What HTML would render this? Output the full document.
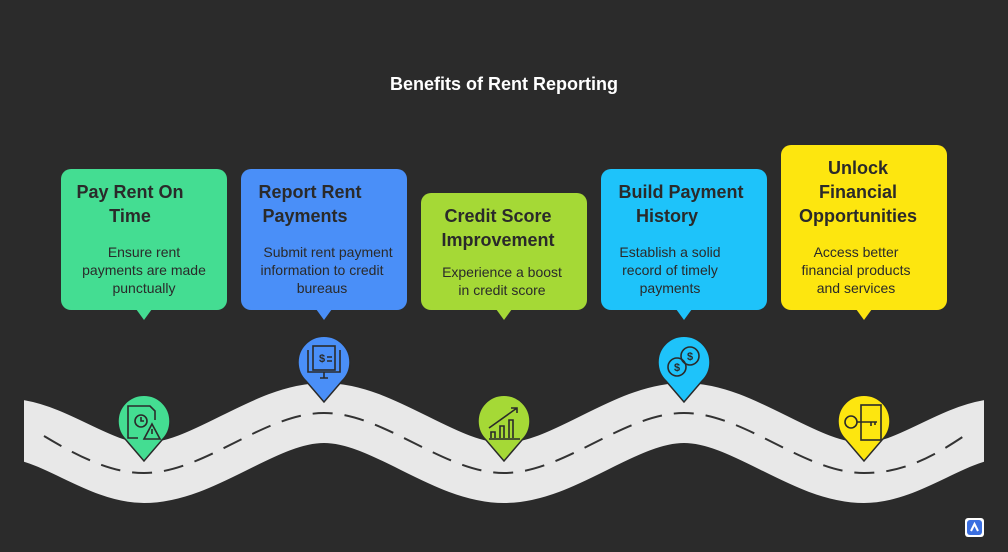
<!DOCTYPE html>
<html><head><meta charset="utf-8"><style>
html,body{margin:0;padding:0;background:#2b2b2b;}
svg{display:block;font-family:"Liberation Sans",Arial,sans-serif;}
</style></head><body>
<svg width="1008" height="552" viewBox="0 0 1008 552">
<rect width="1008" height="552" fill="#2b2b2b"/>
<text x="504" y="90" fill="#fff" font-size="18" font-weight="bold" text-anchor="middle">Benefits of Rent Reporting</text>
<defs><clipPath id="c"><rect x="24" y="300" width="960" height="250"/></clipPath></defs>
<g clip-path="url(#c)">
<path id="road" d="M-36 443 C 24 398, 84 473, 144 473 C 204 473, 264 413, 324 413 C 384 413, 444 473, 504 473 C 564 473, 624 413, 684 413 C 744 413, 804 473, 864 473 C 924 473, 984 398, 1044 443" fill="none" stroke="#e8e8e8" stroke-width="60"/>
</g>
<path d="M44 436 C 84 460, 114 473, 144 473 C 204 473, 264 413, 324 413 C 384 413, 444 473, 504 473 C 564 473, 624 413, 684 413 C 744 413, 804 473, 864 473 C 904 473, 934 456, 964 436" fill="none" stroke="#333" stroke-width="2" stroke-dasharray="20,12"/>
<!-- cards -->
<g font-weight="bold" font-size="18" fill="#2a2a2a" text-anchor="middle">
<rect x="61" y="169" width="166" height="141" rx="10" fill="#44dd92"/><path d="M136 309 L144 320 L152 309Z" fill="#44dd92"/>
<text x="130" y="198">Pay Rent On</text><text x="130" y="222">Time</text>
<rect x="241" y="169" width="166" height="141" rx="10" fill="#4a8ff8"/><path d="M316 309 L324 320 L332 309Z" fill="#4a8ff8"/>
<text x="310" y="198">Report Rent</text><text x="305" y="222">Payments</text>
<rect x="421" y="193" width="166" height="117" rx="10" fill="#a5d936"/><path d="M496 309 L504 320 L512 309Z" fill="#a5d936"/>
<text x="498" y="222">Credit Score</text><text x="498" y="246">Improvement</text>
<rect x="601" y="169" width="166" height="141" rx="10" fill="#1ec3fa"/><path d="M676 309 L684 320 L692 309Z" fill="#1ec3fa"/>
<text x="681" y="198">Build Payment</text><text x="667" y="222">History</text>
<rect x="781" y="145" width="166" height="165" rx="10" fill="#fde60f"/><path d="M856 309 L864 320 L872 309Z" fill="#fde60f"/>
<text x="858" y="174">Unlock</text><text x="858" y="198">Financial</text><text x="858" y="222">Opportunities</text>
</g>
<g font-size="14" fill="#2a2a2a" text-anchor="middle">
<text x="144" y="257">Ensure rent</text><text x="144" y="275">payments are made</text><text x="144" y="293">punctually</text>
<text x="328" y="257">Submit rent payment</text><text x="322" y="275">information to credit</text><text x="322" y="293">bureaus</text>
<text x="502" y="277">Experience a boost</text><text x="502" y="295">in credit score</text>
<text x="670" y="257">Establish a solid</text><text x="670" y="275">record of timely</text><text x="670" y="293">payments</text>
<text x="856" y="257">Access better</text><text x="856" y="275">financial products</text><text x="856" y="293">and services</text>
</g>
<!-- pins -->
<g stroke="#2a2a2a" stroke-width="1.5">
<path d="M144 461 L126 440 A26 26 0 1 1 162 440 Z" fill="#44dd92"/>
<path d="M324 402 L306 381 A26 26 0 1 1 342 381 Z" fill="#4a8ff8"/>
<path d="M504 461 L486 440 A26 26 0 1 1 522 440 Z" fill="#a5d936"/>
<path d="M684 402 L666 381 A26 26 0 1 1 702 381 Z" fill="#1ec3fa"/>
<path d="M864 461 L846 440 A26 26 0 1 1 882 440 Z" fill="#fde60f"/>
</g>
<g fill="none" stroke="#2a2a2a" stroke-width="1.6">
<path d="M138 438 L128 438 L128 406 L150 406 L155 411 L155 420"/>
<circle cx="141" cy="421" r="6"/><path d="M141 417 L141 421 L144 421"/>
<path d="M152 424 L160 439 L144 439 Z"/><path d="M152 429 L152 434"/>
<path d="M308 350 L308 372 L340 372 L340 350"/><rect x="313" y="346" width="22" height="24"/>
<path d="M320 378 L328 378 M324 372 L324 378"/><text x="319" y="362" font-size="11" fill="#2a2a2a" stroke="none" font-weight="bold">$</text>
<path d="M327 357 L332 357 M327 361 L332 361"/>
<path d="M489 439 L520 439 M491 438 L491 432 L495 432 L495 438 M500 438 L500 426 L504 426 L504 438 M509 438 L509 420 L513 420 L513 438 M489 428 L517 408 M511 408 L517 408 L517 413"/>
<circle cx="677" cy="367" r="9"/><circle cx="690" cy="356" r="9"/>
<rect x="861" y="405" width="20" height="35"/><circle cx="851" cy="422" r="6"/>
<path d="M857 422 L877 422 M871 422 L871 426 M875 422 L875 425"/>
</g>
<g font-size="11" font-weight="bold" fill="#2a2a2a" text-anchor="middle">
<text x="677" y="371">$</text><text x="690" y="360">$</text>
</g>
<rect x="965" y="518" width="19" height="19" rx="3" fill="#fff"/>
<rect x="967" y="520" width="15" height="15" rx="3" fill="#3b6fe0"/>
<path d="M971 531 L974.5 524 L978 531" stroke="#fff" stroke-width="2" fill="none"/>
</svg>
</body></html>
